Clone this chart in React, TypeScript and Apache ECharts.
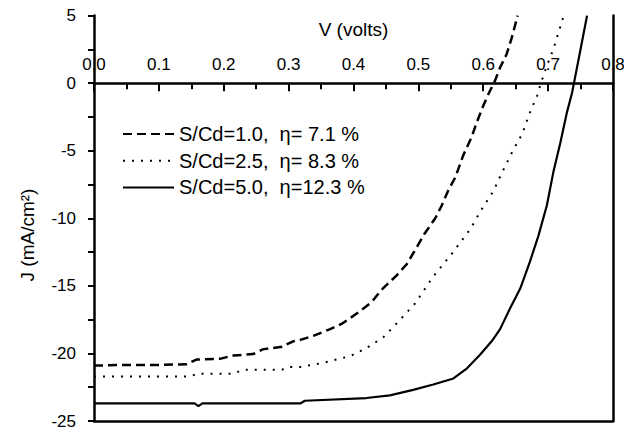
import React, { useEffect, useRef } from "react";
import * as echarts from "echarts";

const xTickLabels = ["0.0", "0.1", "0.2", "0.3", "0.4", "0.5", "0.6", "0.7", "0.8"];
const yTickLabels = ["-25", "-20", "-15", "-10", "-5", "0", "5"];

const seriesNames = [
  "S/Cd=1.0,  η= 7.1 %",
  "S/Cd=2.5,  η= 8.3 %",
  "S/Cd=5.0,  η=12.3 %",
];

// S/Cd = 1.0 (dashed)
const v1 = [0, 0.05, 0.1, 0.143, 0.158, 0.194, 0.215, 0.245, 0.26, 0.29, 0.307, 0.318, 0.338, 0.364, 0.382, 0.405, 0.428, 0.443, 0.467, 0.482, 0.498, 0.51, 0.526, 0.536, 0.546, 0.557, 0.569, 0.582, 0.59, 0.6, 0.608, 0.618, 0.626, 0.636, 0.644, 0.653];
const j1 = [-20.9, -20.85, -20.85, -20.8, -20.45, -20.4, -20.15, -20.05, -19.7, -19.5, -19.1, -19.0, -18.7, -18.2, -17.8, -17.05, -16.2, -15.3, -14.2, -13.4, -12.1, -11.1, -10.0, -9.05, -7.95, -6.96, -5.36, -4.0, -2.9, -1.67, -0.8, 0.17, 1.16, 2.14, 3.37, 5.0];

// S/Cd = 2.5 (dotted)
const v2 = [0, 0.148, 0.16, 0.215, 0.23, 0.29, 0.3, 0.318, 0.353, 0.395, 0.42, 0.446, 0.472, 0.495, 0.523, 0.552, 0.58, 0.598, 0.616, 0.629, 0.647, 0.66, 0.672, 0.683, 0.69, 0.698, 0.708, 0.716, 0.724];
const j2 = [-21.7, -21.7, -21.5, -21.5, -21.2, -21.2, -21.0, -21.0, -20.7, -20.2, -19.6, -18.8, -17.5, -16.3, -14.3, -12.6, -10.8, -9.3, -7.95, -6.6, -4.87, -3.76, -2.16, -0.94, 0.17, 1.28, 2.51, 3.74, 5.0];

// S/Cd = 5.0 (solid)
const v3 = [0, 0.155, 0.161, 0.167, 0.318, 0.325, 0.42, 0.456, 0.492, 0.523, 0.554, 0.575, 0.595, 0.613, 0.626, 0.641, 0.657, 0.672, 0.685, 0.698, 0.708, 0.719, 0.729, 0.737, 0.742, 0.75, 0.76];
const j3 = [-23.7, -23.7, -23.9, -23.7, -23.7, -23.5, -23.3, -23.1, -22.7, -22.3, -21.85, -21.1, -20.1, -19.1, -18.2, -16.7, -15.2, -13.2, -11.3, -9.05, -6.6, -4.38, -2.16, -0.69, 0.54, 2.51, 5.0];

const xMin = Number(xTickLabels[0]);
const xMax = Number(xTickLabels[xTickLabels.length - 1]);
const yMin = Number(yTickLabels[0]);
const yMax = Number(yTickLabels[yTickLabels.length - 1]);

const FONT = "'Liberation Sans', Arial, Helvetica, sans-serif";

const W = 624;
const H = 430;
const GRID = { left: 94, right: 11, top: 15.6, bottom: 9 };

function pairs(v: number[], j: number[]) {
  return v.map((x, i) => [x, j[i]]);
}

export default function App() {
  const ref = useRef<HTMLDivElement>(null);
  useEffect(() => {
    if (!ref.current) return;
    const chart = echarts.init(ref.current, null, { renderer: "svg" });
    const black = "#000";
    const gridH = H - GRID.top - GRID.bottom;
    // move the top x axis down onto J = 0
    const zeroOffset = -((yMax - 0) / (yMax - yMin)) * gridH;
    chart.setOption({
      animation: false,
      backgroundColor: "#fff",
      textStyle: { fontFamily: FONT, color: black },
      grid: {
        ...GRID,
        containLabel: false,
        outerBoundsMode: "none",
      },
      legend: {
        orient: "vertical",
        left: 117,
        top: 119,
        itemWidth: 51,
        itemHeight: 14,
        itemGap: 6.7,
        itemStyle: { opacity: 0 },
        textStyle: { fontSize: 20, color: black, fontFamily: FONT, lineHeight: 20 },
        data: seriesNames,
      },
      xAxis: [
        {
          type: "value",
          position: "top",
          offset: zeroOffset,
          min: xMin,
          max: xMax,
          interval: 0.1,
          name: "V (volts)",
          nameLocation: "middle",
          nameGap: 44,
          nameTextStyle: { fontSize: 19, color: black, fontFamily: FONT },
          axisLine: { show: true, onZero: false, lineStyle: { color: black, width: 2.5 } },
          axisTick: { show: true, inside: true, length: 8, lineStyle: { color: black, width: 2 } },
          minorTick: { show: true, splitNumber: 2, length: 6, lineStyle: { color: black, width: 2 } },
          axisLabel: {
            show: true,
            margin: 10,
            fontSize: 17,
            color: black,
            fontFamily: FONT,
            formatter: (v: number) => v.toFixed(1),
          },
          splitLine: { show: false },
        },
        {
          type: "value",
          position: "bottom",
          min: xMin,
          max: xMax,
          axisLine: { show: true, onZero: false, lineStyle: { color: black, width: 2.5 } },
          axisTick: { show: false },
          axisLabel: { show: false },
          splitLine: { show: false },
        },
      ],
      yAxis: [
        {
          type: "value",
          position: "left",
          min: yMin,
          max: yMax,
          interval: 5,
          axisLine: { show: true, onZero: false, lineStyle: { color: black, width: 2.5 } },
          axisTick: { show: true, inside: false, length: 6, lineStyle: { color: black, width: 2 } },
          minorTick: { show: true, splitNumber: 2, length: 6, lineStyle: { color: black, width: 2 } },
          axisLabel: {
            show: true,
            margin: 18,
            fontSize: 17,
            lineHeight: 14,
            color: black,
            fontFamily: FONT,
          },
          splitLine: { show: false },
        },
        {
          type: "value",
          position: "right",
          min: yMin,
          max: yMax,
          axisLine: { show: true, onZero: false, lineStyle: { color: black, width: 2.5 } },
          axisTick: { show: false },
          axisLabel: { show: false },
          splitLine: { show: false },
        },
      ],
      graphic: [
        {
          type: "text",
          x: 27,
          y: 235,
          rotation: Math.PI / 2,
          style: {
            text: "J (mA/cm²)",
            fontSize: 19,
            fontFamily: FONT,
            fill: black,
            align: "center",
            verticalAlign: "middle",
          },
        },
      ],
      series: [
        {
          name: seriesNames[0],
          type: "line",
          xAxisIndex: 0,
          yAxisIndex: 0,
          data: pairs(v1, j1),
          symbol: "none",
          lineStyle: { color: black, width: 2.5, type: [9, 5] },
          itemStyle: { color: black },
        },
        {
          name: seriesNames[1],
          type: "line",
          xAxisIndex: 0,
          yAxisIndex: 0,
          data: pairs(v2, j2),
          symbol: "none",
          lineStyle: { color: black, width: 2, type: [2, 7] },
          itemStyle: { color: black },
        },
        {
          name: seriesNames[2],
          type: "line",
          xAxisIndex: 0,
          yAxisIndex: 0,
          data: pairs(v3, j3),
          symbol: "none",
          lineStyle: { color: black, width: 2.2, type: "solid" },
          itemStyle: { color: black },
        },
      ],
    });
    return () => chart.dispose();
  }, []);
  return (
    <div
      ref={ref}
      style={{ position: "fixed", left: 0, top: 0, width: W, height: H, background: "#fff" }}
    />
  );
}
